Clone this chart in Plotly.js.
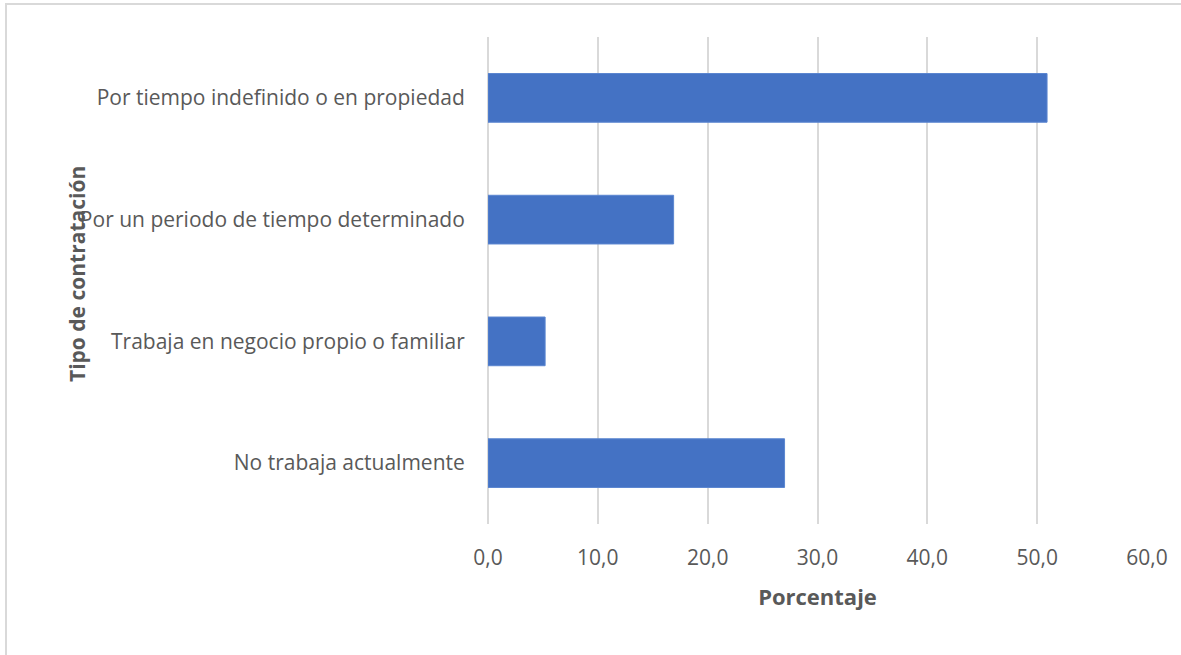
<!DOCTYPE html>
<html>
<head>
<meta charset="utf-8">
<script src="https://cdn.plot.ly/plotly-3.0.1.min.js"></script>
<style>
html,body{margin:0;padding:0;background:#fff;}
#wrap{position:relative;width:1181px;height:655px;}
#chart{position:absolute;left:0;top:0;width:1181px;height:655px;}
#frame{position:absolute;left:5px;top:3px;width:1200px;height:700px;border-top:2px solid #d9d9d9;border-left:2px solid #d9d9d9;pointer-events:none;}
</style>
</head>
<body>
<div id="wrap"><div id="chart"></div><div id="frame"></div></div>
<script>
const categories = [
  "No trabaja actualmente",
  "Trabaja en negocio propio o familiar",
  "Por un periodo de tiempo determinado",
  "Por tiempo indefinido o en propiedad"
];
const values = [27.0, 5.2, 16.9, 50.9];
const xTicks = [0, 10, 20, 30, 40, 50, 60];
const xTitle = "Porcentaje";
const yTitle = "Tipo de contratación";

const FONT = "Open Sans, sans-serif";
const W = 1181, H = 655;
const L = 488, R = 1147, T = 37, B = 524;

const trace = {
  type: "bar",
  orientation: "h",
  y: categories,
  x: values,
  marker: {color: "#4472c4", line: {color: "#5b86d0", width: 1}},
  hoverinfo: "x+y"
};

const layout = {
  width: W, height: H,
  margin: {l: L, r: W - R, t: T, b: H - B, pad: 0},
  paper_bgcolor: "rgba(0,0,0,0)",
  plot_bgcolor: "#fff",
  bargap: 0.6,
  showlegend: false,
  separators: ",.",
  font: {family: FONT, color: "#595959", size: 21},
  xaxis: {
    range: [0, 60],
    tickvals: xTicks,
    tickformat: ".1f",
    showgrid: true,
    gridcolor: "#d9d9d9",
    gridwidth: 2,
    zeroline: true,
    zerolinecolor: "#d9d9d9",
    zerolinewidth: 2,
    showline: false,
    ticks: "outside",
    ticklen: 15,
    tickcolor: "rgba(0,0,0,0)",
    tickfont: {family: FONT, size: 21, color: "#595959"},
    title: {text: xTitle, font: {family: FONT, size: 22, color: "#595959", weight: "bold"}, standoff: 19},
    fixedrange: true
  },
  yaxis: {
    type: "category",
    categoryorder: "array",
    categoryarray: categories,
    showgrid: false,
    zeroline: false,
    showline: false,
    ticks: "outside",
    ticklen: 18,
    tickcolor: "rgba(0,0,0,0)",
    tickfont: {family: FONT, size: 21, color: "#595959"},
    fixedrange: true
  },
  annotations: [{
    text: yTitle,
    xref: "paper", yref: "paper",
    x: (77 - L) / (R - L), y: (B - 274) / (B - T),
    xanchor: "center", yanchor: "middle",
    textangle: -90, showarrow: false,
    font: {family: FONT, size: 21, color: "#595959", weight: "bold"}
  }]
};

Plotly.newPlot("chart", [trace], layout, {displayModeBar: false, staticPlot: true});
</script>
</body>
</html>
